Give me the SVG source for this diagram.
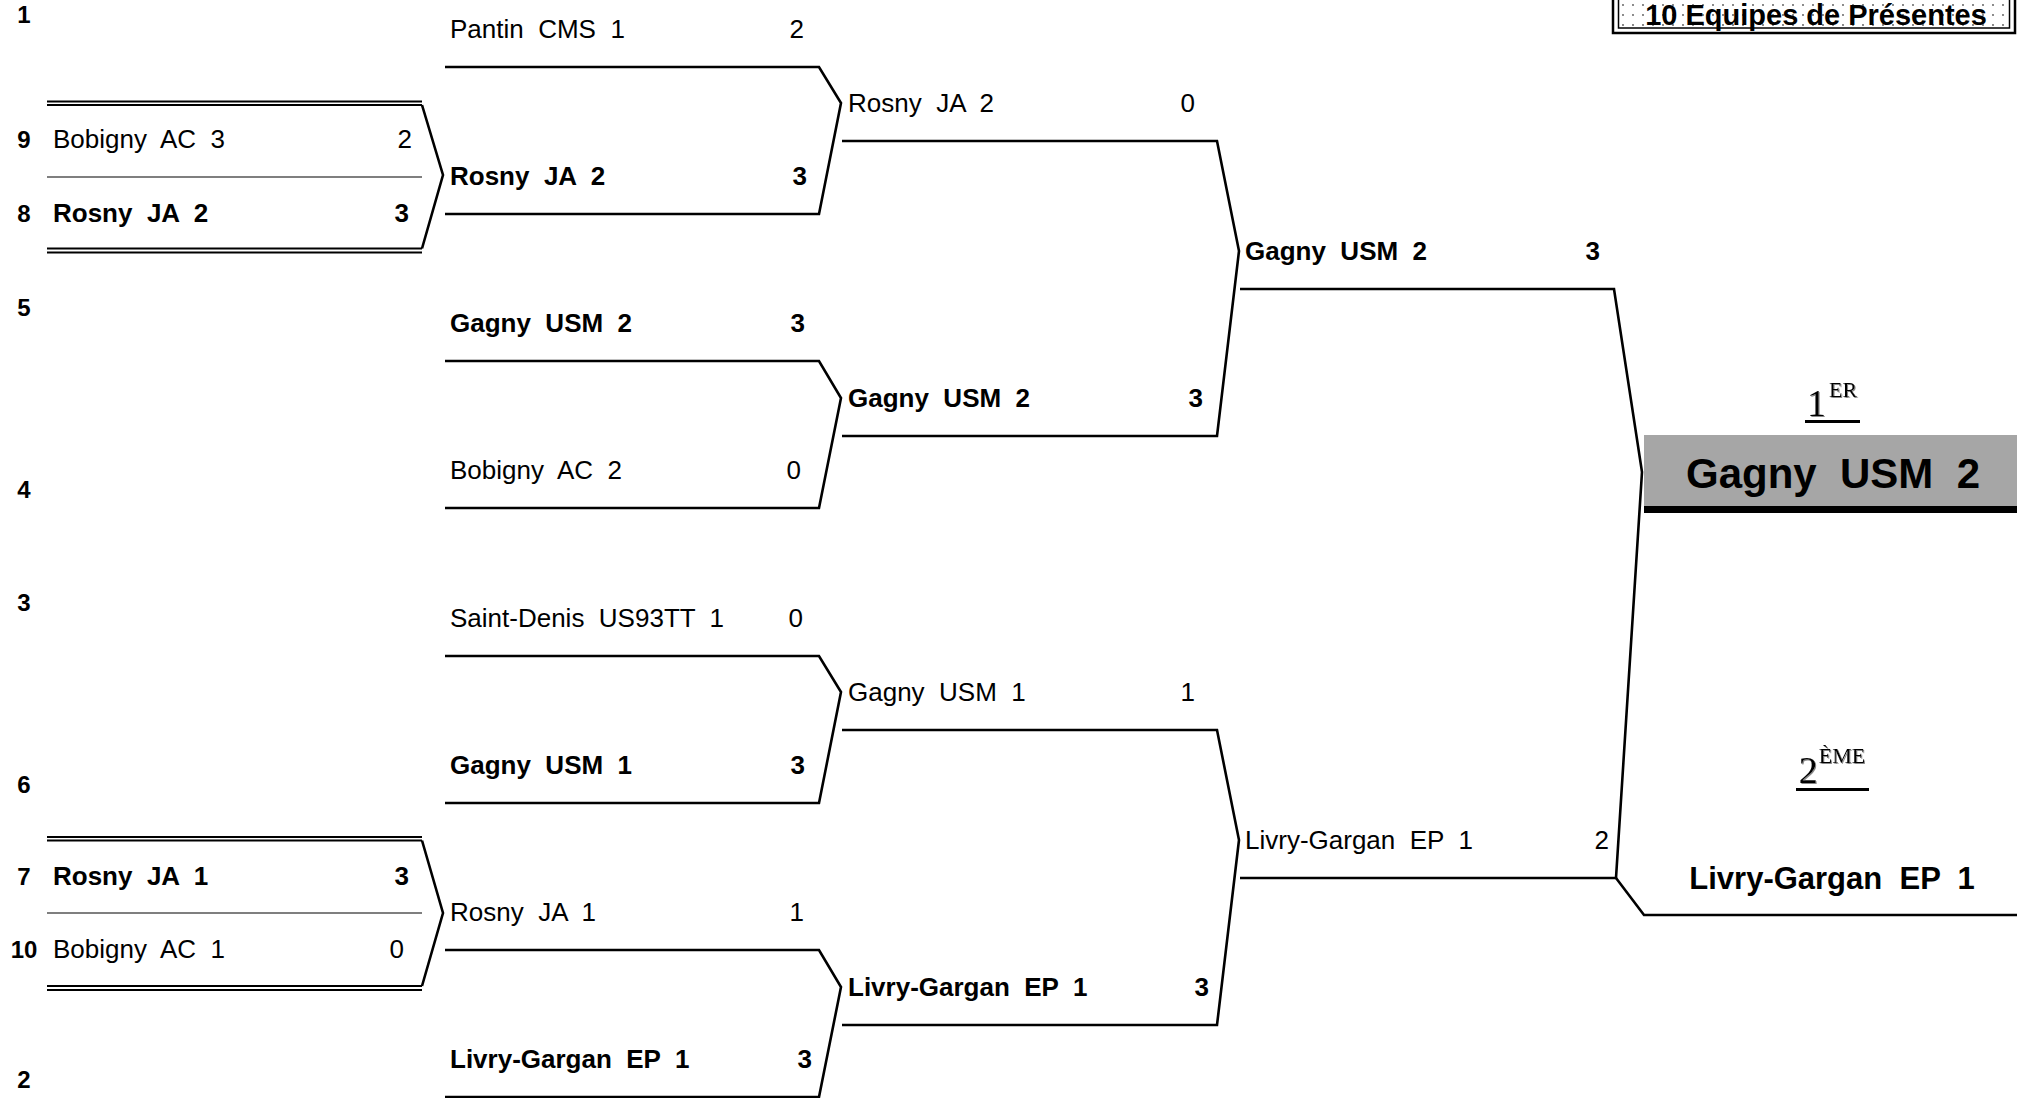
<svg xmlns="http://www.w3.org/2000/svg" width="2017" height="1098" viewBox="0 0 2017 1098" xml:space="preserve">
<defs>
<style>
text{white-space:pre}
.t{font-family:"Liberation Sans",Arial,sans-serif;font-size:26px;fill:#000}
.b{font-weight:bold}
.e{text-anchor:end}
.seed{font-family:"Liberation Sans",Arial,sans-serif;font-size:24px;font-weight:bold;text-anchor:middle;fill:#000}
.ln{stroke:#000;stroke-width:2.6;fill:none;stroke-linejoin:miter}
.dbl{stroke:#000;stroke-width:2;fill:none}
.thin{stroke:#000;stroke-width:1.2;fill:none}
.rank{font-family:"Liberation Serif","Times New Roman",serif;fill:#000;text-anchor:middle}
</style>
<pattern id="dots" width="10" height="10" patternUnits="userSpaceOnUse">
<rect width="10" height="10" fill="#fff"/>
<circle cx="3" cy="5" r="0.9" fill="#555"/>
</pattern>
<filter id="shadow" x="-10%" y="-10%" width="130%" height="130%">
<feDropShadow dx="1" dy="1" stdDeviation="0.4" flood-color="#888"/>
</filter>
</defs>
<rect width="2017" height="1098" fill="#fff"/>

<g id="title">
<rect x="1613" y="-10" width="402" height="43" fill="none" stroke="#000" stroke-width="2.5"/>
<rect x="1618.5" y="-10" width="391" height="38" fill="url(#dots)" stroke="#000" stroke-width="1.5"/>
<text class="t b" x="1816" y="25" style="font-size:29px;text-anchor:middle">10 Equipes de Présentes</text>
</g>

<g id="seeds">
<text class="seed" x="24" y="23">1</text>
<text class="seed" x="24" y="148">9</text>
<text class="seed" x="24" y="222">8</text>
<text class="seed" x="24" y="316">5</text>
<text class="seed" x="24" y="498">4</text>
<text class="seed" x="24" y="611">3</text>
<text class="seed" x="24" y="793">6</text>
<text class="seed" x="24" y="885">7</text>
<text class="seed" x="24" y="958">10</text>
<text class="seed" x="24" y="1088">2</text>
</g>

<g id="r0-m1">
<line class="dbl" x1="47" y1="101.5" x2="422" y2="101.5"/>
<line class="dbl" x1="47" y1="105" x2="422" y2="105"/>
<line class="thin" x1="47" y1="177" x2="422" y2="177"/>
<line class="dbl" x1="47" y1="248.5" x2="422" y2="248.5"/>
<line class="dbl" x1="47" y1="252.5" x2="422" y2="252.5"/>
<text class="t" x="53" y="148">Bobigny  AC  3</text>
<text class="t e" x="412" y="148">2</text>
<text class="t b" x="53" y="222">Rosny  JA  2</text>
<text class="t b e" x="409" y="222">3</text>
</g>

<g id="r0-m2">
<line class="dbl" x1="47" y1="837" x2="422" y2="837"/>
<line class="dbl" x1="47" y1="840.5" x2="422" y2="840.5"/>
<line class="thin" x1="47" y1="913" x2="422" y2="913"/>
<line class="dbl" x1="47" y1="986" x2="422" y2="986"/>
<line class="dbl" x1="47" y1="990" x2="422" y2="990"/>
<text class="t b" x="53" y="885">Rosny  JA  1</text>
<text class="t b e" x="409" y="885">3</text>
<text class="t" x="53" y="958">Bobigny  AC  1</text>
<text class="t e" x="404" y="958">0</text>
</g>

<g id="r1-pantin"><text class="t" x="450" y="38">Pantin  CMS  1</text><text class="t e" x="804" y="38">2</text></g>
<g id="r1-rosny2"><text class="t b" x="450" y="185">Rosny  JA  2</text><text class="t b e" x="807" y="185">3</text></g>
<g id="r1-gagny2"><text class="t b" x="450" y="332">Gagny  USM  2</text><text class="t b e" x="805" y="332">3</text></g>
<g id="r1-bobigny2"><text class="t" x="450" y="479">Bobigny  AC  2</text><text class="t e" x="801" y="479">0</text></g>
<g id="r1-saintdenis"><text class="t" x="450" y="627">Saint-Denis  US93TT  1</text><text class="t e" x="803" y="627">0</text></g>
<g id="r1-gagny1"><text class="t b" x="450" y="774">Gagny  USM  1</text><text class="t b e" x="805" y="774">3</text></g>
<g id="r1-rosny1"><text class="t" x="450" y="921">Rosny  JA  1</text><text class="t e" x="804" y="921">1</text></g>
<g id="r1-livry"><text class="t b" x="450" y="1068">Livry-Gargan  EP  1</text><text class="t b e" x="812" y="1068">3</text></g>

<g id="r2-rosny2"><text class="t" x="848" y="112">Rosny  JA  2</text><text class="t e" x="1195" y="112">0</text></g>
<g id="r2-gagny2"><text class="t b" x="848" y="407">Gagny  USM  2</text><text class="t b e" x="1203" y="407">3</text></g>
<g id="r2-gagny1"><text class="t" x="848" y="701">Gagny  USM  1</text><text class="t e" x="1195" y="701">1</text></g>
<g id="r2-livry"><text class="t b" x="848" y="996">Livry-Gargan  EP  1</text><text class="t b e" x="1209" y="996">3</text></g>

<g id="r3-gagny2"><text class="t b" x="1245" y="260">Gagny  USM  2</text><text class="t b e" x="1600" y="260">3</text></g>
<g id="r3-livry"><text class="t" x="1245" y="849">Livry-Gargan  EP  1</text><text class="t e" x="1609" y="849">2</text></g>

<g id="winner">
<rect x="1644" y="435" width="373" height="71" fill="#a6a6a6"/>
<rect x="1644" y="506" width="373" height="7" fill="#000"/>
<text class="rank" x="1832" y="416" style="font-size:38px" filter="url(#shadow)">1<tspan dx="3" dy="-19" style="font-size:22px">ER</tspan></text>
<line x1="1805" y1="421.5" x2="1860" y2="421.5" stroke="#000" stroke-width="3"/>
<text class="t b" x="1833" y="488" style="font-size:42px;text-anchor:middle">Gagny  USM  2</text>
</g>

<g id="runner-up">
<text class="rank" x="1832" y="783" style="font-size:38px" filter="url(#shadow)">2<tspan dx="1" dy="-20" style="font-size:22px">ÈME</tspan></text>
<line x1="1796" y1="789.5" x2="1869" y2="789.5" stroke="#000" stroke-width="3"/>
<text class="t b" x="1832" y="889" style="font-size:31px;text-anchor:middle">Livry-Gargan  EP  1</text>
</g>

<g id="connectors">
<path class="ln" d="M422,105 L443,175 L422,248.5"/>
<path class="ln" d="M422,840.5 L443,913 L422,986"/>
<path class="ln" d="M445,67 H819 L841,103 L819,214 H445"/>
<path class="ln" d="M445,361 H819 L841,398 L819,508 H445"/>
<path class="ln" d="M445,656 H819 L841,692 L819,803 H445"/>
<path class="ln" d="M445,950 H819 L841,987 L819,1097 H445"/>
<path class="ln" d="M842,141 H1217 L1239,251 L1217,436 H842"/>
<path class="ln" d="M842,730 H1217 L1239,840 L1217,1025 H842"/>
<path class="ln" d="M1240,289 H1614 L1642,472 L1616,878 H1240"/>
<path class="ln" d="M1616,878 L1644,915 H2017"/>
</g>
</svg>
